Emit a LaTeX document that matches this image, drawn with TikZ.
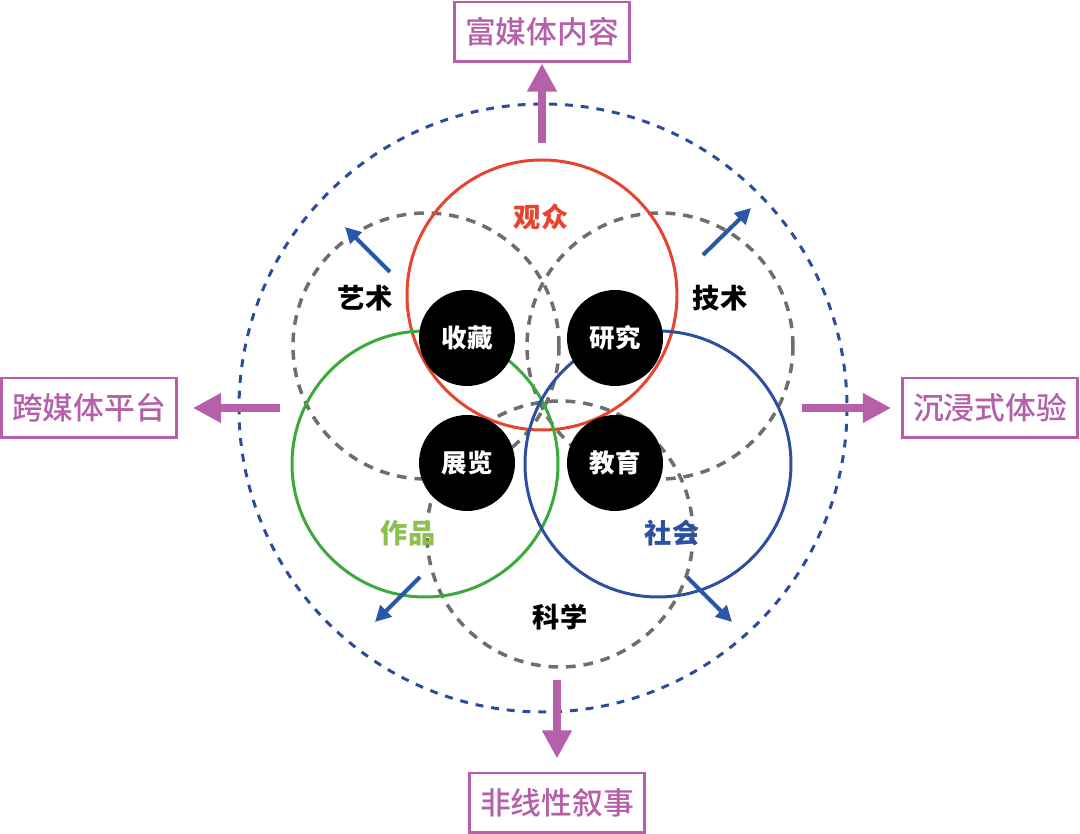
\documentclass[tikz,border=0pt]{standalone}
\usepackage{fontspec}
\newfontfamily\cjk{Noto Sans CJK SC}
\newfontfamily\cjkmid{Noto Sans CJK SC}[UprightFont={* Medium}]
\usepackage{tikz}
\usetikzlibrary{arrows.meta, positioning, calc}

\definecolor{audred}{HTML}{E8432E}
\definecolor{workgreen}{HTML}{3BAA3A}
\definecolor{worklabel}{HTML}{8DC04F}
\definecolor{socblue}{HTML}{2C4FA0}
\definecolor{outerblue}{HTML}{2B4C9A}
\definecolor{arrowblue}{HTML}{2857AC}
\definecolor{fieldgray}{HTML}{6E6E6E}
\definecolor{trendpink}{HTML}{B560A9}

\tikzset{
  field/.style={draw=fieldgray, line width=2pt, dash pattern=on 5.5pt off 4.5pt},
  role/.style={line width=1.7pt},
  core/.style={circle, fill=black, minimum size=1.92cm, inner sep=0pt, text=white,
    font=\cjk\bfseries\fontsize{14.5}{16}\selectfont},
  trend/.style={draw=trendpink, line width=1.7pt, text=trendpink, minimum width=3.5cm,
    minimum height=1.2cm, font=\cjkmid\fontsize{17.5}{20}\selectfont},
  push/.style={draw=trendpink, line width=4pt, -{Triangle[length=16pt,width=16pt]}},
  drift/.style={draw=arrowblue, line width=2.3pt, -{Triangle[length=9pt,width=9pt]}},
  tag/.style={font=\cjk\bfseries\fontsize{15.5}{17}\selectfont}
}

\begin{document}
\begin{tikzpicture}[x=0.02cm, y=-0.02cm]
    \useasboundingbox (0,0) rectangle (1080,834);

    % 1. Outer dashed boundary
    \draw[outerblue, line width=1.7pt, dash pattern=on 4.5pt off 4.5pt] (543,408) circle (304);

    % 2. Dashed field circles (art, technology, science)
    \def\fr{133}
    \draw[field] (426,346) circle (\fr);
    \draw[field] (660,346) circle (\fr);
    \draw[field] (560,534) circle (\fr);

    % 3. Role circles (audience, works, society)
    \draw[role, audred] (542,295) circle (135);
    \draw[role, workgreen] (425,464) circle (\fr);
    \draw[role, socblue] (658,464) circle (\fr);

    % 4. Black core nodes
    \node[core] (collect) at (467,338) {收藏};
    \node[core] (research) at (615,338) {研究};
    \node[core] (exhibit) at (467,463) {展览};
    \node[core] (educate) at (615,463) {教育};

    % 5. Circle labels
    \node[tag, text=audred] (audience) at (541,217) {观众};
    \node[tag] (art) at (365,298) {艺术};
    \node[tag] (tech) at (720,298) {技术};
    \node[tag, text=worklabel] (works) at (408,533) {作品};
    \node[tag, text=socblue] (society) at (672,533) {社会};
    \node[tag] (science) at (560,617) {科学};

    % 6. Blue outward arrows
    \coordinate (artfrom) at (390,272);
    \coordinate (artto) at (345,227);
    \coordinate (techfrom) at (703,255);
    \coordinate (techto) at (751,208);
    \coordinate (worksfrom) at (420,577);
    \coordinate (worksto) at (375,622);
    \coordinate (socfrom) at (687,577);
    \coordinate (socto) at (732,622);
    \draw[drift] (artfrom) -- (artto);
    \draw[drift] (techfrom) -- (techto);
    \draw[drift] (worksfrom) -- (worksto);
    \draw[drift] (socfrom) -- (socto);

    % 7. Trend boxes and magenta arrows
    \node[trend] (rich) at (542,32) {富媒体内容};
    \node[trend] (cross) at (89,408) {跨媒体平台};
    \node[trend] (immerse) at (990,408) {沉浸式体验};
    \node[trend] (nonlinear) at (557,803) {非线性叙事};

    \coordinate (richfoot) at (542,143);
    \coordinate (crossfoot) at (280,408);
    \coordinate (immersefoot) at (802,408);
    \coordinate (nonlinearfoot) at (557,680);
    \draw[push] (richfoot) -- (rich.south);
    \draw[push, shorten >=0.3cm] (crossfoot) -- (cross.east);
    \draw[push, shorten >=0.2cm] (immersefoot) -- (immerse.west);
    \draw[push, shorten >=0.26cm] (nonlinearfoot) -- (nonlinear.north);

\end{tikzpicture}
\end{document}
